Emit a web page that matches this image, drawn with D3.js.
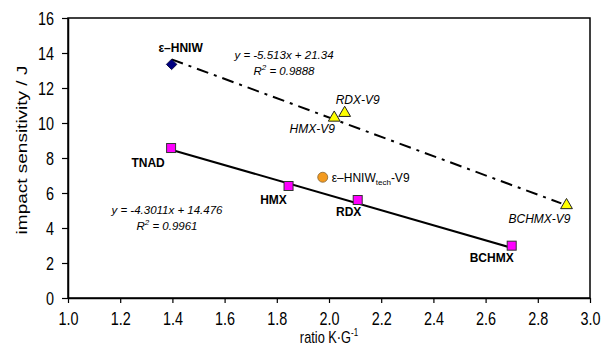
<!DOCTYPE html>
<html>
<head>
<meta charset="utf-8">
<script src="https://cdn.jsdelivr.net/npm/d3@7"></script>
<style>
  body { margin: 0; background: #fff; }
  svg { font-family: "Liberation Sans", Arial, sans-serif; }
</style>
</head>
<body>
<svg id="chart" width="614" height="346"></svg>
<script>
// pure explosives (magenta squares + diamond)
const pureNames = ['TNAD', 'HMX', 'RDX', 'BCHMX'];
const pureX = [1.395, 1.845, 2.11, 2.70];
const pureY = [8.57, 6.4, 5.6, 2.99];

const hniwX = 1.397, hniwY = 13.35;

// V9 formulations (yellow triangles)
const v9Names = ['HMX-V9', 'RDX-V9', 'BCHMX-V9'];
const v9X = [2.02, 2.06, 2.91];
const v9Y = [10.3, 10.57, 5.3];

const techX = 1.976, techY = 6.9;

// regression lines: slope, intercept, x range
const fitSolid = [-4.3011, 14.476, 1.395, 2.70];
const fitDash = [-5.513, 21.34, 1.397, 2.89];

const xTicks = [1.0, 1.2, 1.4, 1.6, 1.8, 2.0, 2.2, 2.4, 2.6, 2.8, 3.0];
const yTicks = [0, 2, 4, 6, 8, 10, 12, 14, 16];

const svg = d3.select('#chart');
const margin = {left: 68, top: 18, right: 24, bottom: 48};
const width = 614 - margin.left - margin.right;
const height = 346 - margin.top - margin.bottom;
const squeeze = 0.8; // axis text in the picture is horizontally squeezed

const x = d3.scaleLinear().domain([1, 3]).range([margin.left, margin.left + width]);
const y = d3.scaleLinear().domain([0, 16]).range([margin.top + height, margin.top]);

// frame
svg.append('rect')
    .attr('x', x(1)).attr('y', y(16))
    .attr('width', width).attr('height', height)
    .attr('fill', 'none').attr('stroke', '#000').attr('stroke-width', 1.5);

const xAxis = svg.append('g')
    .attr('transform', `translate(0,${y(0)})`)
    .call(d3.axisBottom(x).tickValues(xTicks).tickFormat(d3.format('.1f')).tickSize(5).tickSizeOuter(0));
const yAxis = svg.append('g')
    .attr('transform', `translate(${x(1)},0)`)
    .call(d3.axisLeft(y).tickValues(yTicks).tickSize(6).tickSizeOuter(0));
[xAxis, yAxis].forEach(a => {
    a.select('.domain').attr('stroke-width', 1.5);
    a.selectAll('.tick line').attr('stroke-width', 1.2);
    a.selectAll('.tick text').attr('fill', '#000').attr('font-size', 18)
        .attr('font-family', '"Liberation Sans", Arial, sans-serif')
        .attr('transform', `scale(${squeeze},1)`);
});
xAxis.selectAll('.tick text').attr('y', 27).attr('dy', 0);
yAxis.selectAll('.tick text').attr('x', -14 / squeeze).attr('dy', '0.36em');

// axis titles
const xt = svg.append('text')
    .attr('transform', `translate(${x(2)},343) scale(${squeeze},1)`)
    .attr('text-anchor', 'middle').attr('font-size', 16);
xt.append('tspan').text('ratio K\u00b7G');
xt.append('tspan').attr('font-size', 10).attr('dy', -7).text('-1');
svg.append('text')
    .attr('transform', `translate(27,150) rotate(-90) scale(1,${squeeze})`)
    .attr('text-anchor', 'middle').attr('font-size', 19)
    .text('impact sensitivity / J');

// regression lines
const line = d3.line().x(d => x(d[0])).y(d => y(d[1]));
const fitPts = f => [[f[2], f[0] * f[2] + f[1]], [f[3], f[0] * f[3] + f[1]]];
svg.append('path')
    .attr('d', line(fitPts(fitSolid)))
    .attr('stroke', '#000').attr('stroke-width', 2).attr('fill', 'none');
svg.append('path')
    .attr('d', line(fitPts(fitDash)))
    .attr('stroke', '#000').attr('stroke-width', 2).attr('fill', 'none')
    .attr('stroke-dasharray', '12,6,3,6');

// markers
const s = 9;
svg.selectAll('.pure').data(pureX).enter().append('rect')
    .attr('x', d => x(d) - s / 2).attr('y', (d, i) => y(pureY[i]) - s / 2)
    .attr('width', s).attr('height', s)
    .attr('fill', '#ff00ff').attr('stroke', '#333').attr('stroke-width', 1);

svg.append('path')
    .attr('d', d3.symbol().type(d3.symbolSquare).size(55)())
    .attr('transform', `translate(${x(hniwX)},${y(hniwY)}) rotate(45)`)
    .attr('fill', '#000080').attr('stroke', '#000033').attr('stroke-width', 0.8);

svg.selectAll('.v9').data(v9X).enter().append('path')
    .attr('d', d3.symbol().type(d3.symbolTriangle).size(60)())
    .attr('transform', (d, i) => `translate(${x(d)},${y(v9Y[i])})`)
    .attr('fill', '#ffff00').attr('stroke', '#222').attr('stroke-width', 1);

svg.append('circle')
    .attr('cx', x(techX)).attr('cy', y(techY)).attr('r', 5)
    .attr('fill', '#f39a1e').attr('stroke', '#886633').attr('stroke-width', 0.8);

// labels
const boldLabel = (tx, ty, t) => svg.append('text')
    .attr('x', tx).attr('y', ty).attr('text-anchor', 'middle')
    .attr('font-size', 12).attr('font-weight', 'bold').text(t);
boldLabel(x(hniwX) + 9, y(hniwY) - 12, '\u03b5\u2013HNIW');
const pureOff = [[-23, 19], [-15, 18], [-9, 16], [-20, 16]];
pureNames.forEach((n, i) => boldLabel(x(pureX[i]) + pureOff[i][0], y(pureY[i]) + pureOff[i][1], n));

const v9Off = [[-22, 15], [13, -9], [-27, 18]];
v9Names.forEach((n, i) => svg.append('text')
    .attr('x', x(v9X[i]) + v9Off[i][0]).attr('y', y(v9Y[i]) + v9Off[i][1])
    .attr('text-anchor', 'middle').attr('font-size', 12).attr('font-style', 'italic').text(n));

const tech = svg.append('text')
    .attr('x', x(techX) + 9).attr('y', y(techY) + 5)
    .attr('font-size', 12).text('\u03b5\u2013HNIW');
tech.append('tspan').attr('font-size', 8).attr('dy', 3).text('tech');
tech.append('tspan').attr('dy', -3).text('-V9');

// equations
const eq = (cx, cy, a, r2) => {
    svg.append('text').attr('x', cx).attr('y', cy).attr('text-anchor', 'middle')
        .attr('font-size', 11.5).attr('font-style', 'italic').text(a);
    const t = svg.append('text').attr('x', cx).attr('y', cy + 16).attr('text-anchor', 'middle')
        .attr('font-size', 11.5).attr('font-style', 'italic');
    t.append('tspan').text('R');
    t.append('tspan').attr('font-size', 8).attr('dy', -5).text('2');
    t.append('tspan').attr('dy', 5).text(' = ' + r2);
};
eq(284, 59, 'y = -5.513x + 21.34', '0.9888');
eq(167, 214, 'y = -4.3011x + 14.476', '0.9961');
</script>
</body>
</html>
